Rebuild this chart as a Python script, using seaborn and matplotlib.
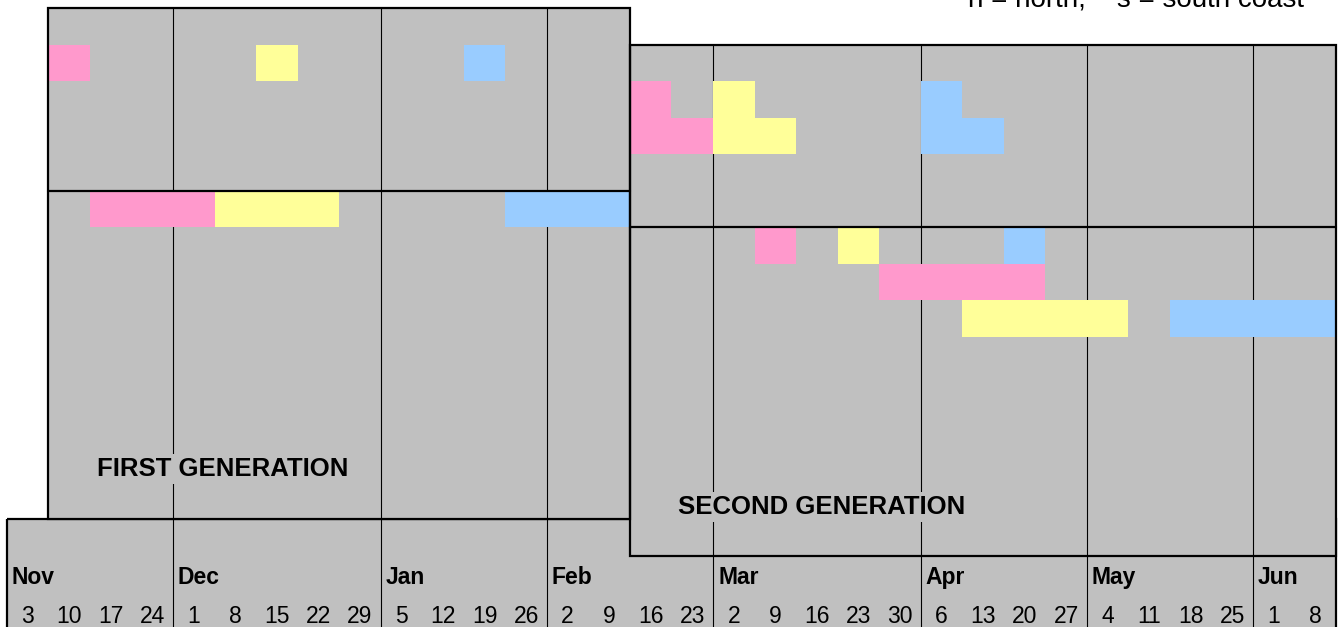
"""Zeitplan der beiden Generationen (Nov–Jun) als Wochenraster."""

import matplotlib.pyplot as plt
from matplotlib.patches import Rectangle
from matplotlib.colors import ListedColormap
import seaborn as sns
import pandas as pd
import numpy as np

sns.set_theme(style="white")
plt.rcParams["font.family"] = ["Liberation Sans", "DejaVu Sans"]
plt.rcParams["text.color"] = "black"

# Achse: Monate und Wochenanfänge
MONTHS = ["Nov", "Dec", "Jan", "Feb", "Mar", "Apr", "May", "Jun"]
WEEKS_PER_MONTH = [4, 5, 4, 4, 5, 4, 4, 2]
WEEK_DAYS = [3, 10, 17, 24,
             1, 8, 15, 22, 29,
             5, 12, 19, 26,
             2, 9, 16, 23,
             2, 9, 16, 23, 30,
             6, 13, 20, 27,
             4, 11, 18, 25,
             1, 8]

# Balken: (Zeile, erste Woche, Woche nach dem Ende)
PINK_SPANS = [(1, 1, 2), (5, 2, 5), (2, 15, 16), (3, 15, 17), (6, 18, 19), (7, 21, 25)]
YELLOW_SPANS = [(1, 6, 7), (5, 5, 8), (2, 17, 18), (3, 17, 19), (6, 20, 21), (8, 23, 27)]
BLUE_SPANS = [(1, 11, 12), (5, 12, 15), (2, 22, 23), (3, 22, 24), (6, 24, 25), (8, 28, 32)]

GREY = "#C0C0C0"
PINK = "#FF99CC"
YELLOW = "#FFFF99"
BLUE = "#99CCFF"

n_weeks = len(WEEK_DAYS)
n_rows = 17
month_start = np.concatenate([[0], np.cumsum(WEEKS_PER_MONTH)[:-1]])

# Zellmatrix für die Heatmap (NaN = leer)
grid = np.full((n_rows, n_weeks), np.nan)
for code, spans in enumerate([PINK_SPANS, YELLOW_SPANS, BLUE_SPANS], start=1):
    for row, a, b in spans:
        grid[row, a:b] = code
cells = pd.DataFrame(grid)

fig = plt.figure(figsize=(13.38, 6.27), dpi=100)
ax = fig.add_axes([0, 0, 1, 1])

sns.heatmap(cells, ax=ax, cmap=ListedColormap([PINK, YELLOW, BLUE]),
            vmin=0.5, vmax=3.5, cbar=False, linewidths=0)
ax.collections[-1].set_zorder(3.5)

# Panels: (x0, x1, y0, y1, Trennlinie, Monatslinien, zorder Fläche, zorder Rahmen)
panels = [
    (0, 32, 14, 18, None, list(month_start[1:]), 1, 1.5),
    (1, 15, 0, 14, 5, [4, 9, 13], 2, 4.8),
    (15, 32, 1, 15, 6, [17, 22, 26, 30], 3, 4.9),
]
for x0, x1, y0, y1, split, vlines, z, zb in panels:
    ax.add_patch(Rectangle((x0, y0), x1 - x0, y1 - y0, facecolor=GREY,
                           edgecolor="none", zorder=z))
    for xv in vlines:
        ax.plot([xv, xv], [y0, y1], color="black", lw=0.8, zorder=z + 0.1)
    if split is not None:
        ax.plot([x0, x1], [split, split], color="black", lw=1.6, zorder=zb)
    ax.add_patch(Rectangle((x0, y0), x1 - x0, y1 - y0, facecolor="none",
                           edgecolor="black", lw=1.6, zorder=zb))

# Beschriftung der Generationen
box = dict(boxstyle="square,pad=0.12", facecolor=GREY, edgecolor="none")
ax.text(2.16, 12.82, "FIRST GENERATION", fontsize=18.5, fontweight="bold",
        ha="left", va="baseline", bbox=box, zorder=3.6)
ax.text(16.16, 13.85, "SECOND GENERATION", fontsize=18.5, fontweight="bold",
        ha="left", va="baseline", bbox=box, zorder=3.7)

# Monate und Wochen
for name, start in zip(MONTHS, month_start):
    ax.text(start + 0.12, 15.78, name, fontsize=16.5, fontweight="bold",
            ha="left", va="baseline", zorder=6)
for i, day in enumerate(WEEK_DAYS):
    ax.text(i + 0.5, 16.86, str(day), fontsize=16.5, ha="center",
            va="baseline", zorder=6)

ax.text(23.14, -0.05, "n = north,    s = south coast", fontsize=20,
        ha="left", va="baseline", zorder=6)

ax.set_xlim(-0.165, 32.045)
ax.set_ylim(16.96, -0.233)
ax.set_axis_off()

fig.savefig("out.png", dpi=100)
plt.close(fig)
